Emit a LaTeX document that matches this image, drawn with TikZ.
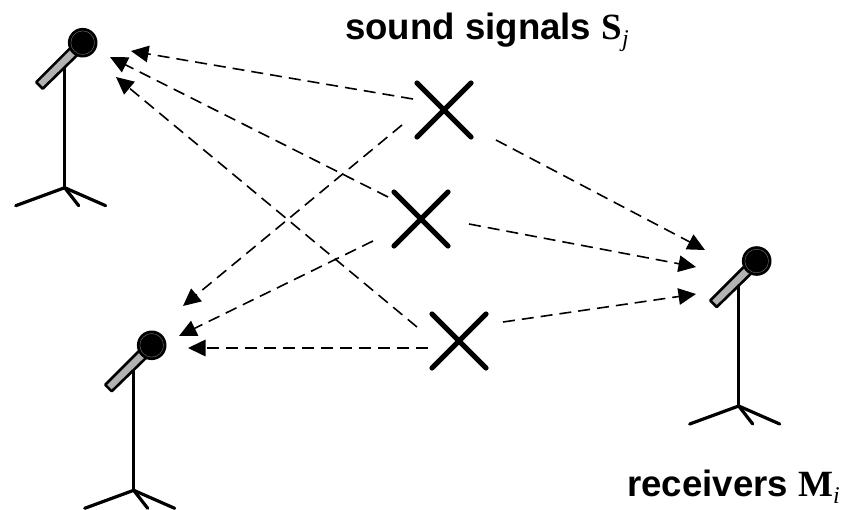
\documentclass[tikz,border=0pt]{standalone}
\usepackage{fontspec}
\setmainfont{Liberation Sans}
\newfontfamily\serifb{Liberation Serif}
\usetikzlibrary{arrows.meta}
\tikzset{
  sigline/.style={line width=1.6pt,dash pattern=on 12pt off 7pt,-{Triangle[length=17.5pt,width=16.5pt]}},
  limb/.style={line width=3.2pt,line cap=round,line join=round},
  xmark/.style={line width=5.2pt,line cap=round},
  crossnode/.style={inner sep=0pt,minimum size=40pt},
  lab/.style={inner sep=0pt,anchor=base west,font=\fontsize{36.6}{40}\selectfont\bfseries}
}
\newcommand{\micstand}[2]{%
  \begin{scope}[shift={(#1,#2)}]
    \draw[limb] (-18,15) -- (-18,145);
    \draw[limb] (-67,163) -- (-18,145) -- (23,163);
    \draw[limb] (-18,145) -- (-4,163);
    \draw[line width=2.6pt,fill=black!30,line join=round]
      (-10,3) -- (-46.5,39.5) -- (-40,46) -- (-3,10) -- cycle;
    \fill[black] (0,0) circle (14.8);
    \draw[black!55,line width=.4pt] (0,0) circle (11.8);
  \end{scope}}
\begin{document}
\begin{tikzpicture}[x=1pt,y=-1pt]
\useasboundingbox (0,0) rectangle (843,509);
\begin{scope}
\clip (0,0) rectangle (843,509);
\micstand{82.7}{42.7}
\micstand{151.7}{345.3}
\micstand{756.7}{261}
\end{scope}
\node[crossnode] (c1) at (444,110) {};
\node[crossnode] (c2) at (421,219) {};
\node[crossnode] (c3) at (459,341) {};
\foreach \c in {c1,c2,c3}{
  \draw[xmark] (\c) ++(-27,-27) -- ++(54,54);
  \draw[xmark] (\c) ++(27,-27) -- ++(-54,54);
}
\coordinate (a1) at (413,99);   \coordinate (b1) at (131,51);
\coordinate (a2) at (402,125);  \coordinate (b2) at (183,306);
\coordinate (a3) at (496,140);  \coordinate (b3) at (705,250);
\coordinate (a4) at (388,197);  \coordinate (b4) at (110,57);
\coordinate (a5) at (373,241);  \coordinate (b5) at (179,336);
\coordinate (a6) at (469,224);  \coordinate (b6) at (696,267);
\coordinate (a7) at (417,327);  \coordinate (b7) at (116,77);
\coordinate (a8) at (428,348);  \coordinate (b8) at (188,348);
\coordinate (a9) at (503,322);  \coordinate (b9) at (696,294);
\foreach \i in {1,...,9}{ \draw[sigline] (a\i) -- (b\i); }
\node[lab] (t1) at (345,39) {sound signals {\serifb\fontsize{37}{40}\selectfont S}\raisebox{-7pt}{\serifb\itshape\mdseries\fontsize{24}{26}\selectfont j}};
\node[lab] (t2) at (627,496) {receivers {\serifb\fontsize{37}{40}\selectfont M}\raisebox{-7pt}{\serifb\itshape\mdseries\fontsize{24}{26}\selectfont i}};
\end{tikzpicture}
\end{document}
